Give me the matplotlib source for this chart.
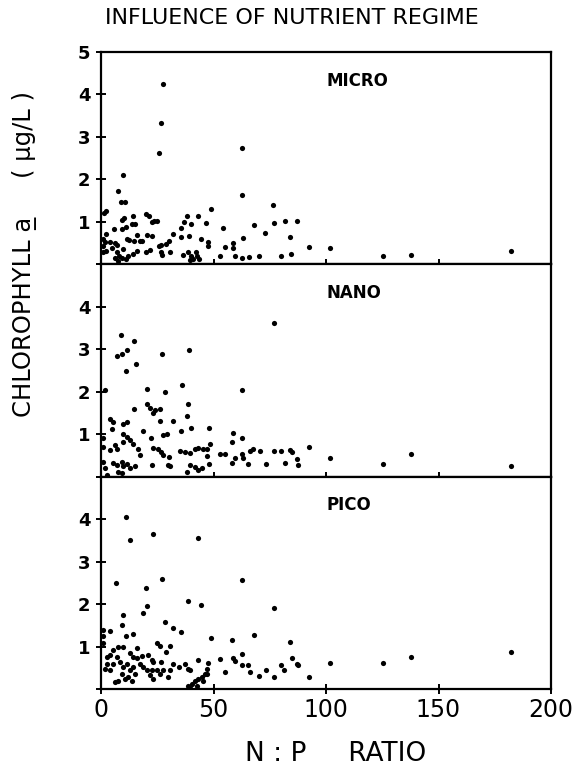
import matplotlib
matplotlib.use("Agg")
import matplotlib.pyplot as plt
from matplotlib.transforms import blended_transform_factory

# N:P ratio vs chlorophyll a
micro_x = [27.4, 26.5, 25.9, 62.7, 62.7, 9.6, 7.4, 9.0, 10.5, 2.2, 1.2, 48.7, 76.6,
           87.3, 81.9, 77.0, 68.1, 54.2, 72.9, 84.0, 63.0, 92.4, 101.8, 84.6, 80.0,
           70.0, 65.8, 62.7, 52.7, 55.0, 58.5, 58.8, 59.7, 46.7, 43.0, 38.4, 40.0,
           37.0, 35.4, 39.0, 35.6, 44.3, 47.4, 47.7,
           38.5, 40.0, 42.2, 42.8, 41.0, 43.6, 39.5, 36.5,
           31.9, 30.2, 28.7, 26.7, 25.6, 26.7, 30.7, 27.3,
           19.9, 21.5, 22.5, 23.7, 25.0, 22.6, 20.5, 21.7, 20.0,
           14.4, 15.1, 13.9, 10.4, 9.5, 11.1, 9.5, 5.8, 2.2, 1.8, 4.0, 6.2, 7.0,
           11.4, 12.6, 15.8, 17.3, 18.4, 14.8, 15.8, 14.4, 11.9, 11.0, 9.5, 8.0,
           7.0, 4.7, 2.2, 1.0, 1.0, 9.9, 6.2, 7.7, 0.7,
           125.5, 137.6, 182.2]
micro_y = [4.25, 3.32, 2.62, 2.74, 1.64, 2.10, 1.72, 1.46, 1.46, 1.25, 1.20, 1.30, 1.40,
           1.01, 1.01, 0.98, 0.92, 0.86, 0.73, 0.65, 0.61, 0.40, 0.38, 0.24, 0.20,
           0.20, 0.18, 0.14, 0.20, 0.40, 0.50, 0.38, 0.20, 0.97, 1.13, 1.13, 0.95,
           0.99, 0.86, 0.66, 0.64, 0.60, 0.53, 0.43,
           0.30, 0.20, 0.30, 0.20, 0.12, 0.12, 0.10, 0.22,
           0.72, 0.54, 0.49, 0.45, 0.42, 0.28, 0.28, 0.22,
           1.19, 1.13, 0.99, 1.03, 1.02, 0.66, 0.70, 0.33, 0.30,
           1.13, 0.94, 0.94, 1.09, 1.05, 0.87, 0.83, 0.83, 0.72, 0.52, 0.53, 0.50, 0.46,
           0.60, 0.58, 0.68, 0.54, 0.56, 0.55, 0.32, 0.24, 0.20, 0.13, 0.16, 0.20,
           0.29, 0.38, 0.32, 0.44, 0.60, 0.36, 0.16, 0.08, 0.28,
           0.19, 0.23, 0.31]

nano_x = [76.7, 8.9, 14.8, 6.9, 9.5, 11.4, 15.6, 11.1, 27.3, 39.1, 1.6, 20.3, 28.4,
          35.8, 62.7, 20.3, 21.8, 24.0, 26.2, 22.9, 14.8, 38.5, 38.4, 26.1, 32.0,
          4.0, 5.5, 4.7, 9.9, 11.7, 18.7, 35.4, 39.9, 47.9, 29.2, 27.7, 22.4, 58.5,
          62.7, 58.4, 9.6, 11.4, 12.9, 9.9, 1.0, 1.0, 6.2, 7.0, 4.0, 14.4, 16.6,
          17.3, 23.3, 25.5, 26.7, 27.7, 30.2, 29.6, 30.7, 22.5, 35.1, 37.3, 39.6,
          41.8, 43.3, 45.4, 48.4, 46.9, 46.9, 48.0, 39.6, 41.8, 43.3, 44.7, 38.1,
          52.9, 55.1, 59.6, 58.1, 62.5, 62.9, 65.5, 66.2, 67.7, 70.7, 73.2, 77.0,
          80.0, 84.0, 84.7, 81.8, 87.0, 87.7, 92.4, 101.8,
          5.5, 7.0, 9.2, 9.9, 11.4, 12.9, 15.1, 7.7, 9.2, 2.5, 1.8, 1.0,
          125.5, 137.6, 182.2]
nano_y = [3.63, 3.33, 3.20, 2.85, 2.90, 2.98, 2.66, 2.49, 2.89, 2.99, 2.04, 2.06, 2.00,
          2.15, 2.04, 1.71, 1.61, 1.58, 1.60, 1.50, 1.59, 1.70, 1.42, 1.31, 1.31,
          1.36, 1.28, 1.13, 1.25, 1.29, 1.08, 1.07, 1.15, 1.15, 1.00, 0.97, 0.92, 1.02,
          0.90, 0.82, 1.00, 0.94, 0.86, 0.82, 0.90, 0.70, 0.74, 0.66, 0.63, 0.78, 0.66,
          0.52, 0.68, 0.66, 0.58, 0.52, 0.47, 0.28, 0.26, 0.28, 0.60, 0.59, 0.55,
          0.64, 0.68, 0.66, 0.77, 0.66, 0.48, 0.29, 0.28, 0.23, 0.16, 0.20, 0.11,
          0.54, 0.54, 0.44, 0.33, 0.54, 0.44, 0.30, 0.60, 0.64, 0.60, 0.30, 0.60,
          0.60, 0.63, 0.59, 0.32, 0.42, 0.28, 0.69, 0.45,
          0.32, 0.28, 0.35, 0.24, 0.30, 0.20, 0.26, 0.12, 0.09, 0.04, 0.20, 0.35,
          0.30, 0.53, 0.24]

pico_x = [11.0, 12.7, 23.3, 42.9, 6.5, 27.1, 62.7, 19.9, 38.5, 44.6, 76.7, 20.3,
          18.7, 9.6, 9.5, 4.0, 28.4, 32.0, 35.4, 1.0, 1.0, 1.0, 48.7, 58.3, 68.1,
          84.1, 14.4, 11.0, 9.9, 15.8, 24.7, 26.2, 30.7, 28.9, 5.5, 7.7, 4.0, 7.0,
          2.5, 12.9, 14.4, 15.8, 18.1, 21.0, 22.5, 23.3, 26.7, 31.9, 34.8, 37.3,
          38.5, 39.6, 42.9, 47.7, 52.9, 58.8, 59.7, 62.7, 62.5, 65.5, 66.2, 70.0,
          73.2, 77.0, 55.1, 47.2, 46.9, 79.9, 81.5, 84.7, 87.0, 87.7, 92.4, 101.8,
          5.5, 8.4, 9.9, 11.4, 12.9, 14.4, 9.2, 10.7, 7.7, 6.2, 12.1, 13.6, 15.1,
          4.0, 1.8, 2.5, 17.3, 18.8, 20.3, 22.5, 21.8, 23.3, 24.7, 26.2, 27.7,
          29.9, 30.7,
          38.8, 40.3, 41.8, 43.3, 44.7, 46.2, 39.6, 42.5, 45.4,
          125.5, 137.6, 182.2]
pico_y = [4.06, 3.52, 3.66, 3.56, 2.50, 2.58, 2.57, 2.38, 2.07, 1.98, 1.90, 1.95,
          1.79, 1.75, 1.50, 1.36, 1.57, 1.43, 1.34, 1.40, 1.24, 1.08, 1.21, 1.16, 1.26,
          1.10, 1.30, 1.24, 1.00, 0.97, 1.08, 1.02, 1.02, 0.88, 0.93, 1.00, 0.80, 0.76,
          0.76, 0.84, 0.76, 0.72, 0.77, 0.80, 0.68, 0.64, 0.64, 0.60, 0.52, 0.60,
          0.48, 0.45, 0.68, 0.61, 0.71, 0.72, 0.66, 0.83, 0.56, 0.56, 0.40, 0.30,
          0.44, 0.28, 0.40, 0.48, 0.36, 0.56, 0.45, 0.72, 0.60, 0.56, 0.29, 0.62,
          0.60, 0.64, 0.52, 0.60, 0.44, 0.52, 0.36, 0.24, 0.20, 0.16, 0.28, 0.20, 0.36,
          0.44, 0.48, 0.60, 0.60, 0.52, 0.44, 0.44, 0.32, 0.24, 0.44, 0.36, 0.44,
          0.28, 0.45,
          0.06, 0.12, 0.18, 0.24, 0.29, 0.36, 0.02, 0.08, 0.20,
          0.61, 0.76, 0.88]

panel_names = ["MICRO", "NANO", "PICO"]
x_ticks = [0, 50, 100, 150, 200]


def main():
    fig = plt.figure(figsize=(5.76, 7.69), dpi=100)
    left, right = 101 / 576, 551 / 576
    top_px, bot_px = 52, 689
    h = (bot_px - top_px) / 3

    panels = [(micro_x, micro_y), (nano_x, nano_y), (pico_x, pico_y)]
    for i, (xs, ys) in enumerate(panels):
        y0 = 1 - (top_px + (i + 1) * h) / 769
        ax = fig.add_axes([left, y0, right - left, h / 769])
        ax.scatter(xs, ys, s=14, c="black", linewidths=0, zorder=3)
        ax.set_xlim(0, 200)
        ax.set_ylim(0, 5)
        ax.set_xticks(x_ticks)
        ax.set_yticks(range(6))
        labels = ["", "1", "2", "3", "4", "5" if i == 0 else ""]
        ax.set_yticklabels(labels, fontsize=13, fontweight="bold")
        if i < 2:
            ax.set_xticklabels([])
        else:
            ax.set_xticklabels([str(t) for t in x_ticks], fontsize=17)
        ax.tick_params(direction="inout", length=7, width=1.4, top=False, right=False)
        ax.tick_params(axis="y", pad=4)
        ax.tick_params(axis="x", pad=3)
        for sp in ax.spines.values():
            sp.set_linewidth(1.6)
        trans = blended_transform_factory(ax.transData, ax.transAxes)
        ax.text(100, 0.865, panel_names[i], transform=trans,
                fontsize=12, fontweight="bold", va="center", ha="left")

    fig.text(292 / 576, 1 - 18 / 769, "INFLUENCE OF NUTRIENT REGIME",
             fontsize=16, ha="center", va="center")
    fig.text(336 / 576, 1 - 754 / 769, "N : P     RATIO",
             fontsize=19, ha="center", va="center")
    fig.text(25 / 576, 1 - 254 / 769, "CHLOROPHYLL a\u0332     ( \u03bcg/L )",
             fontsize=17.5, ha="center", va="center", rotation=90)

    fig.savefig("out.png", dpi=100)


if __name__ == "__main__":
    main()
